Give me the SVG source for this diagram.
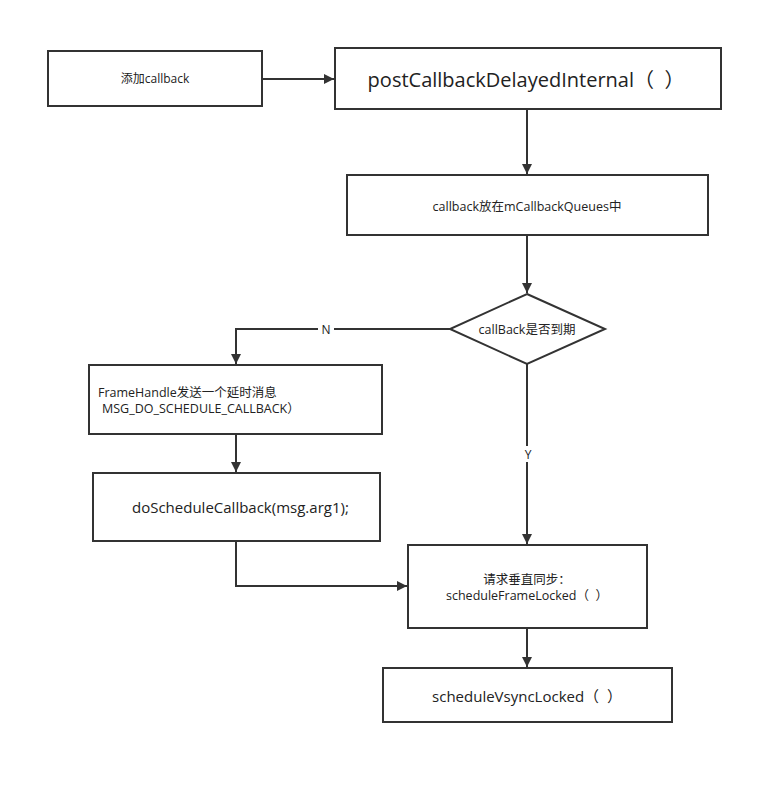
<svg xmlns="http://www.w3.org/2000/svg" width="783" height="785" viewBox="0 0 783 785">
<style>
.n{fill:#fff;stroke:#333;stroke-width:2}
.c{fill:none;stroke:#333;stroke-width:2}
text{font-family:"Open Sans","Noto Sans CJK SC",sans-serif;fill:#222}
.m{text-anchor:middle}
</style>
<defs>
<marker id="a" viewBox="0 0 10 10" refX="10" refY="5" markerWidth="10" markerHeight="10" markerUnits="userSpaceOnUse" orient="auto">
<path d="M0,0L10,5L0,10z" fill="#333"/>
</marker>
</defs>
<rect width="783" height="785" fill="#fff"/>
<g id="connectors">
<path class="c" d="M262,79H334" marker-end="url(#a)"/>
<path class="c" d="M527,109V174" marker-end="url(#a)"/>
<path class="c" d="M527,235V293" marker-end="url(#a)"/>
<path class="c" d="M450,329H236V364" marker-end="url(#a)"/>
<path class="c" d="M527,364V544" marker-end="url(#a)"/>
<path class="c" d="M236,434V472" marker-end="url(#a)"/>
<path class="c" d="M236,541V586H407" marker-end="url(#a)"/>
<path class="c" d="M527,628V667" marker-end="url(#a)"/>
<rect x="318" y="321" width="16" height="16" fill="#fff"/>
<text class="m" x="326" y="334" font-size="12">N</text>
<rect x="520" y="446" width="16" height="16" fill="#fff"/>
<text class="m" x="528" y="459" font-size="12">Y</text>
</g>
<g id="n1"><rect class="n" x="48" y="51" width="214" height="55"/><text class="m" x="155" y="83" font-size="12">添加callback</text></g>
<g id="n2"><rect class="n" x="335" y="48" width="386" height="61"/><text class="m" x="526" y="87" font-size="20" xml:space="preserve">postCallbackDelayedInternal（  ）</text></g>
<g id="n3"><rect class="n" x="347" y="175" width="361" height="60"/><text class="m" x="527" y="211" font-size="12.5">callback放在mCallbackQueues中</text></g>
<g id="n4"><polygon class="n" points="527,294 605,329 527,364 450,329"/><text class="m" x="527" y="334" font-size="12.5">callBack是否到期</text></g>
<g id="n5"><rect class="n" x="89" y="365" width="293" height="69"/><text x="98" y="397" font-size="12.5">FrameHandle发送一个延时消息</text><text x="102" y="413" font-size="12.5">MSG_DO_SCHEDULE_CALLBACK）</text></g>
<g id="n6"><rect class="n" x="93" y="473" width="287" height="68"/><text x="132" y="513" font-size="15">doScheduleCallback(msg.arg1);</text></g>
<g id="n7"><rect class="n" x="408" y="545" width="239" height="83"/><text class="m" x="527" y="584" font-size="12.5">请求垂直同步：</text><text class="m" x="527" y="600" font-size="12.5" xml:space="preserve">scheduleFrameLocked（  ）</text></g>
<g id="n8"><rect class="n" x="383" y="668" width="289" height="54"/><text class="m" x="527" y="702" font-size="15" xml:space="preserve">scheduleVsyncLocked（  ）</text></g>
</svg>
